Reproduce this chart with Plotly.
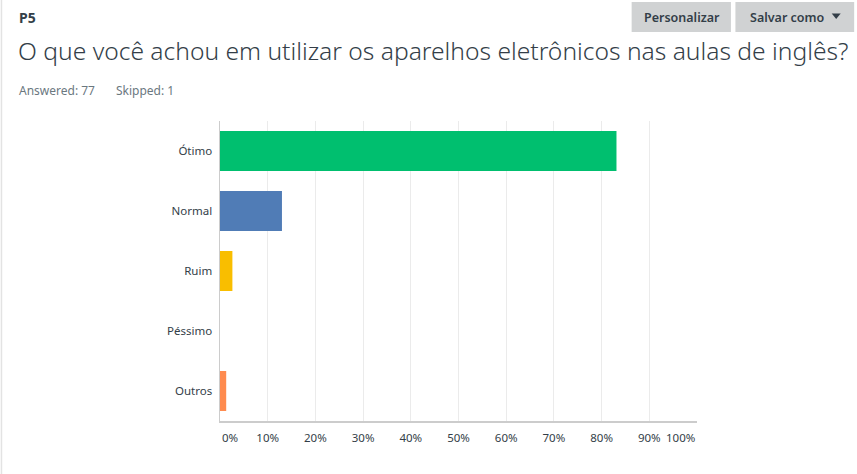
import plotly.graph_objects as go

categories = ["Ótimo", "Normal", "Ruim", "Péssimo", "Outros"]
percent = [83.12, 12.99, 2.60, 0.0, 1.30]
colors = ["#00bf6f", "#507cb6", "#f9be00", "#6bc8cd", "#ff8b4f"]
tick_vals = [0, 10, 20, 30, 40, 50, 60, 70, 80, 90, 100]
tick_text = ["", "10%", "20%", "30%", "40%", "50%", "60%", "70%", "80%", "90%", ""]

W, H = 857, 474
L, R, T, B = 219.5, 697.5, 121, 421

def px(x):
    return (x - L) / (R - L)

def py(y):
    return (B - y) / (B - T)

TXT = "#333e48"
FONT = "Noto Sans"

fig = go.Figure(go.Bar(
    y=categories, x=percent, orientation="h",
    marker=dict(color=colors, line=dict(width=0)),
    hoverinfo="skip",
))

fig.update_layout(
    width=W, height=H,
    margin=dict(l=L, r=W - R, t=T, b=H - B, pad=0),
    paper_bgcolor="white", plot_bgcolor="white",
    bargap=1/3, showlegend=False,
    font=dict(family=FONT, color=TXT, size=11),
    xaxis=dict(range=[0, 100], tickvals=tick_vals, ticktext=tick_text,
               showgrid=True, gridcolor="#ebebeb", gridwidth=1,
               showline=True, linecolor="#cccccc", linewidth=1.5,
               zeroline=False, ticks="", ticklabelstandoff=6,
               tickfont=dict(size=11.5, color=TXT), fixedrange=True),
    yaxis=dict(autorange="reversed", showgrid=False,
               showline=True, linecolor="#cccccc", linewidth=1.5,
               ticks="", ticklabelstandoff=4,
               tickfont=dict(size=11.5, color=TXT), fixedrange=True),
)

annotations = [
    dict(x=0, y=0, xref="x", yref="paper", text="0%", xanchor="left", yanchor="top",
         yshift=-7, showarrow=False, font=dict(size=11.5, color=TXT)),
    dict(x=100, y=0, xref="x", yref="paper", text="100%", xanchor="right", yanchor="top",
         yshift=-7, showarrow=False, font=dict(size=11.5, color=TXT)),
    dict(x=px(16), y=py(17), xref="paper", yref="paper", text="<b>P5</b>",
         xanchor="left", yanchor="middle", showarrow=False,
         font=dict(size=14, color=TXT)),
    dict(x=px(15), y=py(50), xref="paper", yref="paper",
         text="O que você achou em utilizar os aparelhos eletrônicos nas aulas de inglês?",
         xanchor="left", yanchor="middle", showarrow=False,
         font=dict(size=24.6, color=TXT, family=FONT, weight=300)),
    dict(x=px(16), y=py(90), xref="paper", yref="paper", text="Answered: 77",
         xanchor="left", yanchor="middle", showarrow=False,
         font=dict(size=12, color="#6b787f")),
    dict(x=px(113), y=py(90), xref="paper", yref="paper", text="Skipped: 1",
         xanchor="left", yanchor="middle", showarrow=False,
         font=dict(size=12, color="#6b787f")),
    dict(x=px(682), y=py(17), xref="paper", yref="paper", text="Personalizar",
         xanchor="center", yanchor="middle", showarrow=False,
         font=dict(size=12.5, color=TXT, weight=600)),
    dict(x=px(749), y=py(17), xref="paper", yref="paper", text="Salvar como",
         xanchor="left", yanchor="middle", showarrow=False,
         font=dict(size=12.5, color=TXT, weight=600)),
]

shapes = [
    dict(type="rect", xref="paper", yref="paper", x0=px(632), x1=px(731.5),
         y0=py(32), y1=py(2), fillcolor="#d0d2d3", line=dict(width=0), layer="below"),
    dict(type="rect", xref="paper", yref="paper", x0=px(736), x1=px(855),
         y0=py(32), y1=py(2), fillcolor="#d0d2d3", line=dict(width=0), layer="below"),
    dict(type="path", xref="paper", yref="paper",
         path=f"M {px(832.5)} {py(13.5)} L {px(841.5)} {py(13.5)} L {px(837)} {py(19)} Z",
         fillcolor=TXT, line=dict(width=0)),
    dict(type="line", xref="paper", yref="paper", x0=px(0.5), x1=px(0.5),
         y0=py(0), y1=py(474), line=dict(color="#e3e3e3", width=1.5)),
]

fig.update_layout(annotations=annotations, shapes=shapes)
fig.write_html(
    "out.html",
    config={"displayModeBar": False, "staticPlot": True},
    post_script="document.body.style.margin='0';document.body.style.overflow='hidden';",
)
